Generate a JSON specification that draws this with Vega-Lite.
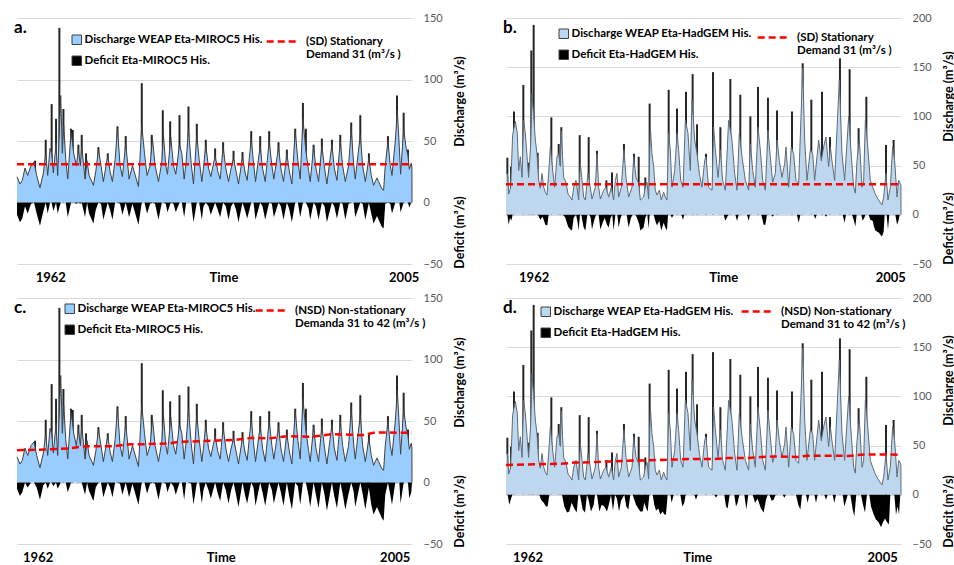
{
"$schema": "https://vega.github.io/schema/vega-lite/v6.json",
"padding": {"left": 12, "top": 12, "right": 0, "bottom": 0},
"datasets": {
"miroc_q": [{"t":0,"q":21},{"t":0.33,"q":15},{"t":0.59,"q":18},{"t":0.89,"q":28},{"t":1.19,"q":22},{"t":1.56,"q":30},{"t":1.9,"q":33},{"t":2.19,"q":22},{"t":2.56,"q":12},{"t":2.94,"q":24},{"t":3.2,"q":40},{"t":3.42,"q":22},{"t":3.68,"q":44},{"t":3.86,"q":40},{"t":4.05,"q":24},{"t":4.35,"q":48},{"t":4.53,"q":22},{"t":4.87,"q":87},{"t":5.05,"q":40},{"t":5.2,"q":63},{"t":5.43,"q":35},{"t":5.65,"q":19},{"t":6.02,"q":57},{"t":6.32,"q":40},{"t":6.61,"q":30},{"t":6.84,"q":43},{"t":7.06,"q":30},{"t":7.21,"q":46},{"t":7.58,"q":19},{"t":7.8,"q":34},{"t":8.03,"q":22},{"t":8.51,"q":14},{"t":8.77,"q":25},{"t":9.07,"q":43},{"t":9.36,"q":30},{"t":9.62,"q":17},{"t":10.11,"q":38},{"t":10.37,"q":25},{"t":10.63,"q":17},{"t":10.93,"q":35},{"t":11.19,"q":60},{"t":11.48,"q":30},{"t":11.74,"q":21},{"t":12.11,"q":48},{"t":12.49,"q":19},{"t":12.86,"q":30},{"t":13.53,"q":13},{"t":13.9,"q":63},{"t":14.2,"q":40},{"t":14.49,"q":22},{"t":14.83,"q":30},{"t":15.09,"q":52},{"t":15.38,"q":30},{"t":15.76,"q":17},{"t":16.13,"q":33},{"t":16.31,"q":55},{"t":16.57,"q":30},{"t":16.76,"q":23},{"t":17.13,"q":53},{"t":17.43,"q":30},{"t":17.69,"q":23},{"t":18.1,"q":47},{"t":18.36,"q":40},{"t":18.62,"q":19},{"t":18.84,"q":33},{"t":19.1,"q":60},{"t":19.4,"q":32},{"t":19.66,"q":15},{"t":20.03,"q":55},{"t":20.29,"q":35},{"t":20.59,"q":17},{"t":20.77,"q":28},{"t":21.03,"q":47},{"t":21.33,"q":28},{"t":21.59,"q":21},{"t":22.07,"q":38},{"t":22.37,"q":25},{"t":22.63,"q":19},{"t":22.96,"q":45},{"t":23.26,"q":28},{"t":23.56,"q":17},{"t":23.86,"q":28},{"t":24.12,"q":36},{"t":24.41,"q":25},{"t":24.67,"q":15},{"t":25.12,"q":37},{"t":25.42,"q":24},{"t":25.64,"q":18},{"t":26.09,"q":52},{"t":26.35,"q":32},{"t":26.57,"q":17},{"t":27.09,"q":46},{"t":27.35,"q":28},{"t":27.65,"q":17},{"t":28.09,"q":50},{"t":28.39,"q":30},{"t":28.61,"q":19},{"t":29.13,"q":45},{"t":29.39,"q":28},{"t":29.69,"q":17},{"t":30.06,"q":40},{"t":30.32,"q":26},{"t":30.62,"q":15},{"t":30.99,"q":58},{"t":31.29,"q":34},{"t":31.55,"q":19},{"t":31.85,"q":68},{"t":32.18,"q":42},{"t":32.48,"q":26},{"t":32.66,"q":17},{"t":33.04,"q":45},{"t":33.3,"q":28},{"t":33.59,"q":17},{"t":33.96,"q":46},{"t":34.26,"q":28},{"t":34.52,"q":15},{"t":35.08,"q":47},{"t":35.34,"q":28},{"t":35.64,"q":18},{"t":36.01,"q":50},{"t":36.27,"q":30},{"t":36.57,"q":17},{"t":36.94,"q":30},{"t":37.23,"q":60},{"t":37.49,"q":32},{"t":37.68,"q":19},{"t":38.24,"q":55},{"t":38.5,"q":30},{"t":38.8,"q":17},{"t":39.2,"q":36},{"t":39.46,"q":22},{"t":39.72,"q":14},{"t":40.1,"q":20},{"t":40.28,"q":17},{"t":40.65,"q":11},{"t":40.84,"q":10},{"t":41.02,"q":30},{"t":41.32,"q":50},{"t":41.58,"q":30},{"t":41.77,"q":22},{"t":42.14,"q":50},{"t":42.36,"q":75},{"t":42.59,"q":45},{"t":42.73,"q":23},{"t":43.07,"q":60},{"t":43.33,"q":45},{"t":43.55,"q":38},{"t":43.7,"q":27},{"t":43.92,"q":32},{"t":43.99,"q":28},{"t":44,"q":0}],
"miroc_s": [{"t":2.01,"s":34},{"t":3.2,"s":51},{"t":3.86,"s":80},{"t":4.35,"s":68},{"t":4.72,"s":142},{"t":5.17,"s":76},{"t":6.02,"s":60},{"t":6.21,"s":59},{"t":6.84,"s":47},{"t":7.21,"s":55},{"t":7.69,"s":40},{"t":9.07,"s":45},{"t":10.11,"s":40},{"t":11.19,"s":62},{"t":12.11,"s":54},{"t":13.9,"s":97},{"t":15.01,"s":55},{"t":16.24,"s":75},{"t":17.06,"s":66},{"t":18.1,"s":71},{"t":19.1,"s":78},{"t":20.03,"s":64},{"t":21.03,"s":51},{"t":22.07,"s":44},{"t":22.96,"s":49},{"t":24.12,"s":42},{"t":25.12,"s":41},{"t":26.09,"s":58},{"t":27.09,"s":54},{"t":28.09,"s":58},{"t":29.13,"s":49},{"t":30.06,"s":43},{"t":30.99,"s":60},{"t":31.85,"s":81},{"t":32.18,"s":60},{"t":33.04,"s":47},{"t":33.96,"s":52},{"t":35.08,"s":51},{"t":36.01,"s":55},{"t":37.23,"s":65},{"t":38.24,"s":71},{"t":39.2,"s":40},{"t":41.32,"s":54},{"t":42.33,"s":87},{"t":43.07,"s":73},{"t":43.55,"s":43}],
"hadgem_q": [{"t":0,"q":42},{"t":0.15,"q":42},{"t":0.3,"q":21},{"t":0.52,"q":28},{"t":0.74,"q":81},{"t":1.04,"q":95},{"t":1.26,"q":83},{"t":1.41,"q":45},{"t":1.6,"q":59},{"t":1.78,"q":38},{"t":1.97,"q":96},{"t":2.15,"q":83},{"t":2.38,"q":55},{"t":2.52,"q":38},{"t":2.75,"q":72},{"t":2.9,"q":123},{"t":3.27,"q":76},{"t":3.45,"q":62},{"t":3.64,"q":35},{"t":3.82,"q":27},{"t":4.01,"q":42},{"t":4.2,"q":28},{"t":4.38,"q":23},{"t":4.57,"q":20},{"t":4.75,"q":42},{"t":4.94,"q":69},{"t":5.2,"q":45},{"t":5.42,"q":28},{"t":5.68,"q":59},{"t":5.87,"q":62},{"t":6.05,"q":49},{"t":6.16,"q":85},{"t":6.42,"q":38},{"t":6.68,"q":33},{"t":6.91,"q":21},{"t":7.17,"q":18},{"t":7.35,"q":15},{"t":7.54,"q":28},{"t":7.8,"q":35},{"t":8.09,"q":15},{"t":8.28,"q":52},{"t":8.47,"q":35},{"t":8.65,"q":18},{"t":8.84,"q":15},{"t":9.13,"q":42},{"t":9.39,"q":28},{"t":9.58,"q":16},{"t":9.95,"q":28},{"t":10.14,"q":62},{"t":10.32,"q":28},{"t":10.51,"q":16},{"t":10.88,"q":25},{"t":11.14,"q":28},{"t":11.44,"q":18},{"t":11.73,"q":28},{"t":11.99,"q":15},{"t":12.18,"q":35},{"t":12.36,"q":42},{"t":12.55,"q":18},{"t":12.85,"q":28},{"t":13.14,"q":66},{"t":13.37,"q":38},{"t":13.66,"q":18},{"t":14.04,"q":28},{"t":14.22,"q":59},{"t":14.48,"q":38},{"t":14.78,"q":32},{"t":14.96,"q":15},{"t":15.33,"q":18},{"t":15.52,"q":28},{"t":15.71,"q":33},{"t":15.89,"q":16},{"t":16.08,"q":89},{"t":16.26,"q":62},{"t":16.45,"q":49},{"t":16.63,"q":25},{"t":16.82,"q":20},{"t":17.08,"q":25},{"t":17.3,"q":15},{"t":17.56,"q":23},{"t":17.75,"q":18},{"t":17.93,"q":15},{"t":18.12,"q":83},{"t":18.3,"q":66},{"t":18.49,"q":28},{"t":18.79,"q":45},{"t":19.05,"q":83},{"t":19.23,"q":66},{"t":19.46,"q":35},{"t":19.72,"q":28},{"t":19.98,"q":96},{"t":20.27,"q":83},{"t":20.53,"q":45},{"t":20.72,"q":117},{"t":21.02,"q":76},{"t":21.28,"q":62},{"t":21.54,"q":42},{"t":21.83,"q":28},{"t":22.13,"q":55},{"t":22.28,"q":59},{"t":22.57,"q":28},{"t":22.95,"q":25},{"t":23.13,"q":89},{"t":23.32,"q":66},{"t":23.62,"q":38},{"t":23.88,"q":66},{"t":24.13,"q":35},{"t":24.43,"q":25},{"t":24.8,"q":96},{"t":25.17,"q":76},{"t":25.47,"q":42},{"t":25.73,"q":25},{"t":25.99,"q":83},{"t":26.29,"q":59},{"t":26.66,"q":35},{"t":27.03,"q":25},{"t":27.22,"q":72},{"t":27.48,"q":45},{"t":27.77,"q":28},{"t":28.07,"q":89},{"t":28.33,"q":66},{"t":28.59,"q":35},{"t":28.89,"q":25},{"t":29.18,"q":86},{"t":29.44,"q":59},{"t":29.7,"q":33},{"t":30,"q":42},{"t":30.19,"q":76},{"t":30.45,"q":55},{"t":30.74,"q":38},{"t":31.04,"q":52},{"t":31.19,"q":69},{"t":31.49,"q":28},{"t":31.78,"q":69},{"t":32.04,"q":62},{"t":32.3,"q":35},{"t":32.6,"q":32},{"t":33.05,"q":149},{"t":33.27,"q":76},{"t":33.53,"q":35},{"t":33.9,"q":66},{"t":34.16,"q":62},{"t":34.38,"q":35},{"t":34.64,"q":59},{"t":34.83,"q":76},{"t":35.12,"q":55},{"t":35.38,"q":69},{"t":35.64,"q":79},{"t":35.94,"q":49},{"t":36.13,"q":69},{"t":36.31,"q":55},{"t":36.61,"q":35},{"t":37.13,"q":137},{"t":37.43,"q":62},{"t":37.72,"q":35},{"t":38.17,"q":100},{"t":38.47,"q":59},{"t":38.73,"q":28},{"t":38.91,"q":22},{"t":39.1,"q":55},{"t":39.36,"q":76},{"t":39.66,"q":28},{"t":39.84,"q":35},{"t":40.03,"q":96},{"t":40.32,"q":66},{"t":40.58,"q":35},{"t":40.84,"q":28},{"t":41.14,"q":21},{"t":41.51,"q":15},{"t":41.88,"q":10},{"t":42.07,"q":18},{"t":42.33,"q":42},{"t":42.55,"q":15},{"t":42.81,"q":28},{"t":43.07,"q":69},{"t":43.29,"q":55},{"t":43.56,"q":18},{"t":43.75,"q":35},{"t":43.92,"q":32},{"t":43.99,"q":30},{"t":44,"q":0}],
"hadgem_s": [{"t":0.15,"s":58},{"t":0.56,"s":49},{"t":0.89,"s":105},{"t":1.93,"s":132},{"t":2.52,"s":53},{"t":2.82,"s":167},{"t":3.08,"s":193},{"t":3.53,"s":63},{"t":5.05,"s":99},{"t":5.87,"s":72},{"t":6.16,"s":89},{"t":8.21,"s":81},{"t":9.21,"s":79},{"t":10.14,"s":65},{"t":11.18,"s":35},{"t":11.81,"s":43},{"t":13.14,"s":72},{"t":14.26,"s":62},{"t":14.78,"s":59},{"t":15.52,"s":38},{"t":16.0,"s":113},{"t":18.12,"s":127},{"t":19.05,"s":108},{"t":20.05,"s":125},{"t":20.79,"s":143},{"t":21.28,"s":92},{"t":22.28,"s":62},{"t":23.06,"s":145},{"t":23.88,"s":89},{"t":24.99,"s":138},{"t":26.1,"s":122},{"t":27.22,"s":100},{"t":28.07,"s":130},{"t":29.18,"s":119},{"t":30.19,"s":106},{"t":31.86,"s":105},{"t":33.05,"s":154},{"t":34.01,"s":117},{"t":35.2,"s":125},{"t":36.09,"s":79},{"t":37.2,"s":159},{"t":38.28,"s":148},{"t":39.28,"s":88},{"t":40.14,"s":120},{"t":42.33,"s":71},{"t":43.18,"s":76}],
"def_a": [{"t":0,"d":-10},{"t":0.33,"d":-16},{"t":0.59,"d":-13},{"t":0.89,"d":-3},{"t":1.19,"d":-9},{"t":1.56,"d":-1},{"t":1.9,"d":0},{"t":2.19,"d":-9},{"t":2.56,"d":-19},{"t":2.94,"d":-7},{"t":3.2,"d":0},{"t":3.42,"d":-9},{"t":3.68,"d":0},{"t":3.86,"d":0},{"t":4.05,"d":-7},{"t":4.35,"d":0},{"t":4.53,"d":-9},{"t":4.87,"d":0},{"t":5.43,"d":0},{"t":5.65,"d":-12},{"t":6.02,"d":0},{"t":6.32,"d":0},{"t":6.61,"d":-1},{"t":6.84,"d":0},{"t":7.06,"d":-1},{"t":7.21,"d":0},{"t":7.58,"d":-12},{"t":7.8,"d":0},{"t":8.03,"d":-9},{"t":8.51,"d":-17},{"t":8.77,"d":-6},{"t":9.07,"d":0},{"t":9.36,"d":-1},{"t":9.62,"d":-14},{"t":10.11,"d":0},{"t":10.37,"d":-6},{"t":10.63,"d":-14},{"t":10.93,"d":0},{"t":11.19,"d":0},{"t":11.48,"d":-1},{"t":11.74,"d":-10},{"t":12.11,"d":0},{"t":12.49,"d":-12},{"t":12.86,"d":-1},{"t":13.53,"d":-18},{"t":13.9,"d":0},{"t":14.2,"d":0},{"t":14.49,"d":-9},{"t":14.83,"d":-1},{"t":15.09,"d":0},{"t":15.38,"d":-1},{"t":15.76,"d":-14},{"t":16.13,"d":0},{"t":16.31,"d":0},{"t":16.57,"d":-1},{"t":16.76,"d":-8},{"t":17.13,"d":0},{"t":17.43,"d":-1},{"t":17.69,"d":-8},{"t":18.1,"d":0},{"t":18.36,"d":0},{"t":18.62,"d":-12},{"t":18.84,"d":0},{"t":19.1,"d":0},{"t":19.4,"d":0},{"t":19.66,"d":-16},{"t":20.03,"d":0},{"t":20.29,"d":0},{"t":20.59,"d":-14},{"t":20.77,"d":-3},{"t":21.03,"d":0},{"t":21.33,"d":-3},{"t":21.59,"d":-10},{"t":22.07,"d":0},{"t":22.37,"d":-6},{"t":22.63,"d":-12},{"t":22.96,"d":0},{"t":23.26,"d":-3},{"t":23.56,"d":-14},{"t":23.86,"d":-3},{"t":24.12,"d":0},{"t":24.41,"d":-6},{"t":24.67,"d":-16},{"t":25.12,"d":0},{"t":25.42,"d":-7},{"t":25.64,"d":-13},{"t":26.09,"d":0},{"t":26.35,"d":0},{"t":26.57,"d":-14},{"t":27.09,"d":0},{"t":27.35,"d":-3},{"t":27.65,"d":-14},{"t":28.09,"d":0},{"t":28.39,"d":-1},{"t":28.61,"d":-12},{"t":29.13,"d":0},{"t":29.39,"d":-3},{"t":29.69,"d":-14},{"t":30.06,"d":0},{"t":30.32,"d":-5},{"t":30.62,"d":-16},{"t":30.99,"d":0},{"t":31.29,"d":0},{"t":31.55,"d":-12},{"t":31.85,"d":0},{"t":32.18,"d":0},{"t":32.48,"d":-5},{"t":32.66,"d":-14},{"t":33.04,"d":0},{"t":33.3,"d":-3},{"t":33.59,"d":-14},{"t":33.96,"d":0},{"t":34.26,"d":-3},{"t":34.52,"d":-16},{"t":35.08,"d":0},{"t":35.34,"d":-3},{"t":35.64,"d":-13},{"t":36.01,"d":0},{"t":36.27,"d":-1},{"t":36.57,"d":-14},{"t":36.94,"d":-1},{"t":37.23,"d":0},{"t":37.49,"d":0},{"t":37.68,"d":-12},{"t":38.24,"d":0},{"t":38.5,"d":-1},{"t":38.8,"d":-14},{"t":39.2,"d":0},{"t":39.46,"d":-9},{"t":39.72,"d":-17},{"t":40.1,"d":-11},{"t":40.28,"d":-14},{"t":40.65,"d":-20},{"t":40.84,"d":-21},{"t":41.02,"d":-1},{"t":41.32,"d":0},{"t":41.58,"d":-1},{"t":41.77,"d":-9},{"t":42.14,"d":0},{"t":42.59,"d":0},{"t":42.73,"d":-8},{"t":43.07,"d":0},{"t":43.55,"d":0},{"t":43.7,"d":-4},{"t":43.92,"d":0},{"t":44,"d":0}],
"def_c": [{"t":0,"d":-5},{"t":0.33,"d":-11},{"t":0.59,"d":-8},{"t":0.89,"d":0},{"t":1.19,"d":-4},{"t":1.56,"d":0},{"t":1.9,"d":0},{"t":2.19,"d":-4},{"t":2.56,"d":-14},{"t":2.94,"d":-2},{"t":3.2,"d":0},{"t":3.42,"d":-5},{"t":3.68,"d":0},{"t":3.86,"d":0},{"t":4.05,"d":-3},{"t":4.35,"d":0},{"t":4.53,"d":-5},{"t":4.87,"d":0},{"t":5.43,"d":0},{"t":5.65,"d":-8},{"t":6.02,"d":0},{"t":7.21,"d":0},{"t":7.58,"d":-10},{"t":7.8,"d":0},{"t":8.03,"d":-7},{"t":8.51,"d":-15},{"t":8.77,"d":-4},{"t":9.07,"d":0},{"t":9.36,"d":0},{"t":9.62,"d":-12},{"t":10.11,"d":0},{"t":10.37,"d":-4},{"t":10.63,"d":-12},{"t":10.93,"d":0},{"t":11.19,"d":0},{"t":11.48,"d":-1},{"t":11.74,"d":-10},{"t":12.11,"d":0},{"t":12.49,"d":-12},{"t":12.86,"d":-1},{"t":13.53,"d":-18},{"t":13.9,"d":0},{"t":14.2,"d":0},{"t":14.49,"d":-9},{"t":14.83,"d":-1},{"t":15.09,"d":0},{"t":15.38,"d":-1},{"t":15.76,"d":-14},{"t":16.13,"d":0},{"t":16.31,"d":0},{"t":16.57,"d":-1},{"t":16.76,"d":-8},{"t":17.13,"d":0},{"t":17.43,"d":-3},{"t":17.69,"d":-10},{"t":18.1,"d":0},{"t":18.36,"d":0},{"t":18.62,"d":-14},{"t":18.84,"d":0},{"t":19.1,"d":0},{"t":19.4,"d":-1},{"t":19.66,"d":-18},{"t":20.03,"d":0},{"t":20.29,"d":0},{"t":20.59,"d":-17},{"t":20.77,"d":-6},{"t":21.03,"d":0},{"t":21.33,"d":-6},{"t":21.59,"d":-13},{"t":22.07,"d":0},{"t":22.37,"d":-9},{"t":22.63,"d":-15},{"t":22.96,"d":0},{"t":23.26,"d":-6},{"t":23.56,"d":-17},{"t":23.86,"d":-6},{"t":24.12,"d":0},{"t":24.41,"d":-10},{"t":24.67,"d":-20},{"t":25.12,"d":0},{"t":25.42,"d":-11},{"t":25.64,"d":-17},{"t":26.09,"d":0},{"t":26.35,"d":-4},{"t":26.57,"d":-19},{"t":27.09,"d":0},{"t":27.35,"d":-8},{"t":27.65,"d":-19},{"t":28.09,"d":0},{"t":28.39,"d":-6},{"t":28.61,"d":-17},{"t":29.13,"d":0},{"t":29.39,"d":-8},{"t":29.69,"d":-19},{"t":30.06,"d":0},{"t":30.32,"d":-11},{"t":30.62,"d":-22},{"t":30.99,"d":0},{"t":31.29,"d":-3},{"t":31.55,"d":-18},{"t":31.85,"d":0},{"t":32.18,"d":0},{"t":32.48,"d":-11},{"t":32.66,"d":-20},{"t":33.04,"d":0},{"t":33.3,"d":-10},{"t":33.59,"d":-21},{"t":33.96,"d":0},{"t":34.26,"d":-10},{"t":34.52,"d":-23},{"t":35.08,"d":0},{"t":35.34,"d":-11},{"t":35.64,"d":-21},{"t":36.01,"d":0},{"t":36.27,"d":-9},{"t":36.57,"d":-22},{"t":36.94,"d":-9},{"t":37.23,"d":0},{"t":37.49,"d":-7},{"t":37.68,"d":-20},{"t":38.24,"d":0},{"t":38.5,"d":-9},{"t":38.8,"d":-22},{"t":39.2,"d":-4},{"t":39.46,"d":-18},{"t":39.72,"d":-26},{"t":40.1,"d":-20},{"t":40.28,"d":-23},{"t":40.65,"d":-29},{"t":40.84,"d":-31},{"t":41.02,"d":-10},{"t":41.32,"d":0},{"t":41.58,"d":-10},{"t":41.77,"d":-18},{"t":42.14,"d":0},{"t":42.59,"d":0},{"t":42.73,"d":-17},{"t":43.07,"d":0},{"t":43.55,"d":0},{"t":43.7,"d":-13},{"t":43.92,"d":-8},{"t":44,"d":0}],
"def_b": [{"t":0,"d":0},{"t":0.15,"d":0},{"t":0.3,"d":-10},{"t":0.45,"d":-3},{"t":0.59,"d":-6},{"t":0.74,"d":0},{"t":3.56,"d":0},{"t":3.82,"d":-5},{"t":4.08,"d":-2},{"t":4.38,"d":-10},{"t":4.6,"d":-11},{"t":4.75,"d":0},{"t":6.35,"d":0},{"t":6.61,"d":-3},{"t":6.91,"d":-12},{"t":7.17,"d":-15},{"t":7.35,"d":-16},{"t":7.54,"d":-3},{"t":7.8,"d":0},{"t":7.95,"d":-6},{"t":8.09,"d":-16},{"t":8.24,"d":0},{"t":8.39,"d":0},{"t":8.65,"d":-13},{"t":8.84,"d":-16},{"t":9.06,"d":0},{"t":9.28,"d":0},{"t":9.43,"d":-3},{"t":9.58,"d":-15},{"t":9.84,"d":-5},{"t":10.03,"d":0},{"t":10.32,"d":0},{"t":10.51,"d":-15},{"t":10.77,"d":-8},{"t":10.99,"d":-3},{"t":11.25,"d":-10},{"t":11.44,"d":-13},{"t":11.66,"d":-3},{"t":11.84,"d":0},{"t":11.99,"d":-16},{"t":12.18,"d":0},{"t":12.4,"d":0},{"t":12.55,"d":-13},{"t":12.77,"d":-3},{"t":12.92,"d":0},{"t":13.44,"d":0},{"t":13.66,"d":-13},{"t":13.92,"d":-3},{"t":14.11,"d":0},{"t":14.41,"d":0},{"t":14.59,"d":-3},{"t":14.85,"d":-10},{"t":14.96,"d":-16},{"t":15.33,"d":-13},{"t":15.52,"d":-3},{"t":15.67,"d":0},{"t":15.74,"d":0},{"t":15.89,"d":-14},{"t":16.0,"d":0},{"t":16.45,"d":0},{"t":16.63,"d":-6},{"t":16.82,"d":-11},{"t":17.08,"d":-6},{"t":17.3,"d":-16},{"t":17.56,"d":-8},{"t":17.75,"d":-13},{"t":17.93,"d":-16},{"t":18.05,"d":0},{"t":18.3,"d":0},{"t":18.49,"d":-3},{"t":18.68,"d":0},{"t":19.53,"d":0},{"t":19.72,"d":-5},{"t":19.86,"d":0},{"t":24.25,"d":0},{"t":24.43,"d":-6},{"t":24.65,"d":-2},{"t":24.8,"d":0},{"t":25.55,"d":0},{"t":25.73,"d":-6},{"t":25.92,"d":0},{"t":26.85,"d":0},{"t":27.03,"d":-6},{"t":27.18,"d":0},{"t":28.44,"d":0},{"t":28.7,"d":-10},{"t":28.89,"d":-10},{"t":29.07,"d":0},{"t":29.55,"d":0},{"t":29.7,"d":-2},{"t":29.85,"d":0},{"t":32.41,"d":0},{"t":32.6,"d":-8},{"t":32.79,"d":0},{"t":34.27,"d":0},{"t":34.46,"d":-4},{"t":34.61,"d":0},{"t":35.5,"d":0},{"t":35.64,"d":-2},{"t":35.79,"d":0},{"t":37.5,"d":0},{"t":37.72,"d":-8},{"t":37.87,"d":0},{"t":38.54,"d":0},{"t":38.73,"d":-5},{"t":38.91,"d":-12},{"t":39.06,"d":0},{"t":39.58,"d":0},{"t":39.73,"d":-6},{"t":39.92,"d":-3},{"t":40.03,"d":0},{"t":40.4,"d":0},{"t":40.58,"d":-5},{"t":40.84,"d":-6},{"t":40.99,"d":-12},{"t":41.14,"d":-16},{"t":41.51,"d":-18},{"t":41.88,"d":-22},{"t":42.07,"d":-17},{"t":42.18,"d":0},{"t":42.4,"d":0},{"t":42.55,"d":-15},{"t":42.7,"d":0},{"t":43.37,"d":0},{"t":43.56,"d":-10},{"t":43.75,"d":-5},{"t":43.85,"d":0},{"t":44,"d":0}],
"def_d": [{"t":0,"d":0},{"t":0.19,"d":0},{"t":0.37,"d":-10},{"t":0.56,"d":-4},{"t":0.71,"d":0},{"t":3.71,"d":0},{"t":3.9,"d":-5},{"t":4.2,"d":-8},{"t":4.46,"d":-12},{"t":4.64,"d":-12},{"t":4.83,"d":0},{"t":6.24,"d":0},{"t":6.5,"d":-12},{"t":6.79,"d":-18},{"t":7.05,"d":-17},{"t":7.31,"d":-8},{"t":7.61,"d":-14},{"t":7.87,"d":-18},{"t":8.06,"d":0},{"t":8.24,"d":0},{"t":8.54,"d":-15},{"t":8.8,"d":-18},{"t":9.02,"d":0},{"t":9.17,"d":-4},{"t":9.47,"d":-17},{"t":9.77,"d":-10},{"t":9.91,"d":0},{"t":10.14,"d":0},{"t":10.4,"d":-17},{"t":10.66,"d":-10},{"t":10.95,"d":-12},{"t":11.25,"d":-17},{"t":11.51,"d":-8},{"t":11.7,"d":0},{"t":11.92,"d":-16},{"t":12.14,"d":0},{"t":12.36,"d":-4},{"t":12.59,"d":-17},{"t":12.81,"d":-6},{"t":13.18,"d":0},{"t":13.4,"d":-12},{"t":13.63,"d":-15},{"t":13.85,"d":0},{"t":14.11,"d":0},{"t":14.48,"d":-10},{"t":14.74,"d":-14},{"t":14.96,"d":-17},{"t":15.22,"d":-17},{"t":15.41,"d":-8},{"t":15.63,"d":-14},{"t":15.78,"d":-17},{"t":15.97,"d":0},{"t":16.34,"d":0},{"t":16.52,"d":-10},{"t":16.71,"d":-16},{"t":16.97,"d":-14},{"t":17.19,"d":-20},{"t":17.45,"d":-17},{"t":17.64,"d":-20},{"t":17.82,"d":-20},{"t":18.01,"d":0},{"t":18.31,"d":0},{"t":18.45,"d":-8},{"t":18.68,"d":0},{"t":19.42,"d":0},{"t":19.64,"d":-12},{"t":19.86,"d":-8},{"t":20.01,"d":0},{"t":20.98,"d":0},{"t":21.16,"d":-5},{"t":21.35,"d":0},{"t":23.21,"d":0},{"t":23.39,"d":-3},{"t":23.58,"d":0},{"t":24.32,"d":0},{"t":24.51,"d":-12},{"t":24.69,"d":-14},{"t":24.91,"d":0},{"t":25.43,"d":0},{"t":25.62,"d":-12},{"t":25.8,"d":-8},{"t":25.99,"d":0},{"t":26.55,"d":0},{"t":26.77,"d":-15},{"t":26.99,"d":0},{"t":27.48,"d":0},{"t":27.74,"d":-8},{"t":28.03,"d":-4},{"t":28.4,"d":-14},{"t":28.7,"d":-18},{"t":28.96,"d":-5},{"t":29.15,"d":0},{"t":29.33,"d":0},{"t":29.59,"d":-6},{"t":29.81,"d":-5},{"t":30.04,"d":0},{"t":30.82,"d":0},{"t":31.0,"d":-3},{"t":31.19,"d":0},{"t":32.3,"d":0},{"t":32.56,"d":-10},{"t":32.79,"d":-15},{"t":32.97,"d":0},{"t":33.42,"d":0},{"t":33.6,"d":-8},{"t":33.79,"d":0},{"t":34.35,"d":0},{"t":34.53,"d":-8},{"t":34.72,"d":0},{"t":35.46,"d":0},{"t":35.64,"d":-5},{"t":35.83,"d":0},{"t":36.39,"d":0},{"t":36.57,"d":-8},{"t":36.76,"d":0},{"t":37.5,"d":0},{"t":37.69,"d":-12},{"t":37.91,"d":-5},{"t":38.06,"d":0},{"t":38.36,"d":0},{"t":38.62,"d":-15},{"t":38.8,"d":-22},{"t":39.02,"d":0},{"t":39.54,"d":0},{"t":39.77,"d":-10},{"t":39.99,"d":-18},{"t":40.21,"d":0},{"t":40.47,"d":0},{"t":40.66,"d":-12},{"t":40.96,"d":-20},{"t":41.21,"d":-25},{"t":41.51,"d":-28},{"t":41.77,"d":-33},{"t":41.99,"d":-28},{"t":42.22,"d":-24},{"t":42.44,"d":-28},{"t":42.66,"d":-30},{"t":42.81,"d":0},{"t":43.26,"d":0},{"t":43.44,"d":-20},{"t":43.63,"d":-12},{"t":43.78,"d":-20},{"t":43.92,"d":0},{"t":44,"d":0}],
"dem_const": [{"t":0,"D":31},{"t":44,"D":31}],
"dem_c": [{"t":0,"D":26.2},{"t":3.12,"D":26.8},{"t":5.72,"D":27.6},{"t":7.58,"D":29.5},{"t":10.93,"D":29.5},{"t":12.04,"D":30.9},{"t":13.9,"D":31.1},{"t":16.87,"D":31.7},{"t":17.99,"D":33},{"t":20.59,"D":33.6},{"t":24.3,"D":34.7},{"t":26.16,"D":36.3},{"t":28.02,"D":35.8},{"t":30.25,"D":37.7},{"t":32.85,"D":37.2},{"t":35.08,"D":39.3},{"t":38.42,"D":38.5},{"t":39.91,"D":40.7},{"t":44,"D":40.4}],
"dem_d": [{"t":0,"D":30.3},{"t":3.16,"D":31},{"t":4.64,"D":31.3},{"t":6.13,"D":31.6},{"t":7.61,"D":32.7},{"t":9.47,"D":33},{"t":10.58,"D":33.7},{"t":12.07,"D":34},{"t":13.55,"D":34.7},{"t":15.78,"D":35},{"t":18.01,"D":35.7},{"t":20.98,"D":36.4},{"t":23.21,"D":36.4},{"t":24.69,"D":37.4},{"t":26.92,"D":37.4},{"t":28.4,"D":38.4},{"t":29.89,"D":39},{"t":32.49,"D":38.4},{"t":33.6,"D":39.8},{"t":36.2,"D":39.8},{"t":38.06,"D":39.5},{"t":39.91,"D":41},{"t":44,"D":40.8}]
},
"concat": [
{
"title": {"text": "a."},
"width": 395, "height": 246,
"encoding": {"x": {"field": "t", "type": "quantitative", "scale": {"domain": [0, 44], "nice": false, "zero": false}, "axis": {"values": [3.71, 23, 43.07], "labelExpr": "datum.value < 10 ? '1962' : datum.value < 33 ? 'Time' : '2005'", "title": null}}},
"resolve": {"axis": {"y": "independent"}},
"layer": [
{"data": {"name": "miroc_s"}, "mark": {"type": "rule", "color": "#262626", "strokeWidth": 2},
 "encoding": {"y": {"field": "s", "type": "quantitative", "scale": {"domain": [-50, 150], "nice": false, "zero": false}, "axis": {"orient": "right", "values": [-50, 0, 50, 100, 150], "title": "Discharge (m³/s)", "titleY": 83}}, "y2": {"datum": 0}}},
{"data": {"name": "miroc_q"}, "mark": {"type": "area"},
 "encoding": {"y": {"field": "q", "type": "quantitative", "scale": {"domain": [-50, 150], "nice": false, "zero": false}, "axis": null},
  "fill": {"datum": "Discharge WEAP Eta-MIROC5 His.", "type": "nominal", "scale": {"domain": ["Discharge WEAP Eta-MIROC5 His.", "Deficit Eta-MIROC5 His."], "range": ["#99CCFF", "#000000"]},
   "legend": {"orient": "none", "legendX": 54, "legendY": 16, "title": null, "symbolType": "square", "symbolSize": 90, "symbolStrokeColor": "#404040", "symbolStrokeWidth": 1, "labelOffset": 2, "rowPadding": 7}}}},
{"data": {"name": "miroc_q"}, "mark": {"type": "line", "color": "#404040", "strokeWidth": 1},
 "encoding": {"y": {"field": "q", "type": "quantitative", "scale": {"domain": [-50, 150], "nice": false, "zero": false}, "axis": null}}},
{"data": {"name": "def_a"}, "mark": {"type": "area"},
 "encoding": {"y": {"field": "d", "type": "quantitative", "scale": {"domain": [-50, 150], "nice": false, "zero": false}, "axis": {"orient": "right", "labels": false, "grid": false, "title": "Deficit  (m³/s)", "titleY": 214}},
  "fill": {"datum": "Deficit Eta-MIROC5 His.", "type": "nominal", "scale": {"domain": ["Discharge WEAP Eta-MIROC5 His.", "Deficit Eta-MIROC5 His."], "range": ["#99CCFF", "#000000"]}}}},
{"data": {"name": "dem_const"}, "mark": {"type": "line", "color": "#FF0000", "strokeWidth": 2.5},
 "encoding": {"y": {"field": "D", "type": "quantitative", "scale": {"domain": [-50, 150], "nice": false, "zero": false}, "axis": null},
  "strokeDash": {"datum": "SD", "type": "nominal", "scale": {"domain": ["SD"], "range": [[7, 4]]},
   "legend": {"orient": "none", "legendX": 248, "legendY": 6, "title": null, "symbolType": "stroke", "symbolSize": 1000, "symbolStrokeColor": "#FF0000", "symbolStrokeWidth": 2.5, "labelOffset": 6,
    "labelExpr": "['(SD) Stationary', 'Demand 31 (m³/s )']"}}}}
]
},
{
"title": {"text": "b."},
"width": 395, "height": 246,
"encoding": {"x": {"field": "t", "type": "quantitative", "scale": {"domain": [0, 44], "nice": false, "zero": false}, "axis": {"values": [3.08, 24.2, 42.8], "labelExpr": "datum.value < 10 ? '1962' : datum.value < 33 ? 'Time' : '2005'", "title": null}}},
"resolve": {"axis": {"y": "independent"}},
"layer": [
{"data": {"name": "hadgem_s"}, "mark": {"type": "rule", "color": "#262626", "strokeWidth": 2},
 "encoding": {"y": {"field": "s", "type": "quantitative", "scale": {"domain": [-50, 200], "nice": false, "zero": false}, "axis": {"orient": "right", "values": [-50, 0, 50, 100, 150, 200], "title": "Discharge (m³/s)", "titleY": 78}}, "y2": {"datum": 0}}},
{"data": {"name": "hadgem_q"}, "mark": {"type": "area"},
 "encoding": {"y": {"field": "q", "type": "quantitative", "scale": {"domain": [-50, 200], "nice": false, "zero": false}, "axis": null},
  "fill": {"datum": "Discharge WEAP Eta-HadGEM His.", "type": "nominal", "scale": {"domain": ["Discharge WEAP Eta-HadGEM His.", "Deficit Eta-HadGEM His."], "range": ["#BDD7EE", "#000000"]},
   "legend": {"orient": "none", "legendX": 52, "legendY": 10, "title": null, "symbolType": "square", "symbolSize": 90, "symbolStrokeColor": "#404040", "symbolStrokeWidth": 1, "labelOffset": 2, "rowPadding": 7}}}},
{"data": {"name": "hadgem_q"}, "mark": {"type": "line", "color": "#5f6b78", "strokeWidth": 1},
 "encoding": {"y": {"field": "q", "type": "quantitative", "scale": {"domain": [-50, 200], "nice": false, "zero": false}, "axis": null}}},
{"data": {"name": "def_b"}, "mark": {"type": "area"},
 "encoding": {"y": {"field": "d", "type": "quantitative", "scale": {"domain": [-50, 200], "nice": false, "zero": false}, "axis": {"orient": "right", "labels": false, "grid": false, "title": "Deficit  (m³/s)", "titleY": 210}},
  "fill": {"datum": "Deficit Eta-HadGEM His.", "type": "nominal", "scale": {"domain": ["Discharge WEAP Eta-HadGEM His.", "Deficit Eta-HadGEM His."], "range": ["#BDD7EE", "#000000"]}}}},
{"data": {"name": "dem_const"}, "mark": {"type": "line", "color": "#FF0000", "strokeWidth": 2.5},
 "encoding": {"y": {"field": "D", "type": "quantitative", "scale": {"domain": [-50, 200], "nice": false, "zero": false}, "axis": null},
  "strokeDash": {"datum": "SD", "type": "nominal", "scale": {"domain": ["SD"], "range": [[7, 4]]},
   "legend": {"orient": "none", "legendX": 250, "legendY": 2, "title": null, "symbolType": "stroke", "symbolSize": 1000, "symbolStrokeColor": "#FF0000", "symbolStrokeWidth": 2.5, "labelOffset": 6,
    "labelExpr": "['(SD) Stationary', 'Demand 31 (m³/s )']"}}}}
]
},
{
"title": {"text": "c."},
"width": 395, "height": 246,
"encoding": {"x": {"field": "t", "type": "quantitative", "scale": {"domain": [0, 44], "nice": false, "zero": false}, "axis": {"values": [2.3, 22.7, 42.07], "labelExpr": "datum.value < 10 ? '1962' : datum.value < 33 ? 'Time' : '2005'", "title": null}}},
"resolve": {"axis": {"y": "independent"}},
"layer": [
{"data": {"name": "miroc_s"}, "mark": {"type": "rule", "color": "#262626", "strokeWidth": 2},
 "encoding": {"y": {"field": "s", "type": "quantitative", "scale": {"domain": [-50, 150], "nice": false, "zero": false}, "axis": {"orient": "right", "values": [-50, 0, 50, 100, 150], "title": "Discharge (m³/s)", "titleY": 84}}, "y2": {"datum": 0}}},
{"data": {"name": "miroc_q"}, "mark": {"type": "area"},
 "encoding": {"y": {"field": "q", "type": "quantitative", "scale": {"domain": [-50, 150], "nice": false, "zero": false}, "axis": null},
  "fill": {"datum": "Discharge WEAP Eta-MIROC5 His.", "type": "nominal", "scale": {"domain": ["Discharge WEAP Eta-MIROC5 His.", "Deficit Eta-MIROC5 His."], "range": ["#99CCFF", "#000000"]},
   "legend": {"orient": "none", "legendX": 47, "legendY": 5, "title": null, "symbolType": "square", "symbolSize": 90, "symbolStrokeColor": "#404040", "symbolStrokeWidth": 1, "labelOffset": 2, "rowPadding": 7}}}},
{"data": {"name": "miroc_q"}, "mark": {"type": "line", "color": "#404040", "strokeWidth": 1},
 "encoding": {"y": {"field": "q", "type": "quantitative", "scale": {"domain": [-50, 150], "nice": false, "zero": false}, "axis": null}}},
{"data": {"name": "def_c"}, "mark": {"type": "area"},
 "encoding": {"y": {"field": "d", "type": "quantitative", "scale": {"domain": [-50, 150], "nice": false, "zero": false}, "axis": {"orient": "right", "labels": false, "grid": false, "title": "Deficit  (m³/s)", "titleY": 213}},
  "fill": {"datum": "Deficit Eta-MIROC5 His.", "type": "nominal", "scale": {"domain": ["Discharge WEAP Eta-MIROC5 His.", "Deficit Eta-MIROC5 His."], "range": ["#99CCFF", "#000000"]}}}},
{"data": {"name": "dem_c"}, "mark": {"type": "line", "color": "#FF0000", "strokeWidth": 2.5},
 "encoding": {"y": {"field": "D", "type": "quantitative", "scale": {"domain": [-50, 150], "nice": false, "zero": false}, "axis": null},
  "strokeDash": {"datum": "NSD", "type": "nominal", "scale": {"domain": ["NSD"], "range": [[7, 4]]},
   "legend": {"orient": "none", "legendX": 237, "legendY": -5, "title": null, "symbolType": "stroke", "symbolSize": 1000, "symbolStrokeColor": "#FF0000", "symbolStrokeWidth": 2.5, "labelOffset": 6,
    "labelExpr": "['(NSD) Non-stationary', 'Demanda 31 to 42 (m³/s )']"}}}}
]
},
{
"title": {"text": "d."},
"width": 395, "height": 246,
"encoding": {"x": {"field": "t", "type": "quantitative", "scale": {"domain": [0, 44], "nice": false, "zero": false}, "axis": {"values": [2.4, 21.3, 41.9], "labelExpr": "datum.value < 10 ? '1962' : datum.value < 33 ? 'Time' : '2005'", "title": null}}},
"resolve": {"axis": {"y": "independent"}},
"layer": [
{"data": {"name": "hadgem_s"}, "mark": {"type": "rule", "color": "#262626", "strokeWidth": 2},
 "encoding": {"y": {"field": "s", "type": "quantitative", "scale": {"domain": [-50, 200], "nice": false, "zero": false}, "axis": {"orient": "right", "values": [-50, 0, 50, 100, 150, 200], "title": "Discharge (m³/s)", "titleY": 82}}, "y2": {"datum": 0}}},
{"data": {"name": "hadgem_q"}, "mark": {"type": "area"},
 "encoding": {"y": {"field": "q", "type": "quantitative", "scale": {"domain": [-50, 200], "nice": false, "zero": false}, "axis": null},
  "fill": {"datum": "Discharge WEAP Eta-HadGEM His.", "type": "nominal", "scale": {"domain": ["Discharge WEAP Eta-HadGEM His.", "Deficit Eta-HadGEM His."], "range": ["#BDD7EE", "#000000"]},
   "legend": {"orient": "none", "legendX": 34, "legendY": 8, "title": null, "symbolType": "square", "symbolSize": 90, "symbolStrokeColor": "#404040", "symbolStrokeWidth": 1, "labelOffset": 2, "rowPadding": 7}}}},
{"data": {"name": "hadgem_q"}, "mark": {"type": "line", "color": "#5f6b78", "strokeWidth": 1},
 "encoding": {"y": {"field": "q", "type": "quantitative", "scale": {"domain": [-50, 200], "nice": false, "zero": false}, "axis": null}}},
{"data": {"name": "def_d"}, "mark": {"type": "area"},
 "encoding": {"y": {"field": "d", "type": "quantitative", "scale": {"domain": [-50, 200], "nice": false, "zero": false}, "axis": {"orient": "right", "labels": false, "grid": false, "title": "Deficit  (m³/s)", "titleY": 213}},
  "fill": {"datum": "Deficit Eta-HadGEM His.", "type": "nominal", "scale": {"domain": ["Discharge WEAP Eta-HadGEM His.", "Deficit Eta-HadGEM His."], "range": ["#BDD7EE", "#000000"]}}}},
{"data": {"name": "dem_d"}, "mark": {"type": "line", "color": "#FF0000", "strokeWidth": 2.5},
 "encoding": {"y": {"field": "D", "type": "quantitative", "scale": {"domain": [-50, 200], "nice": false, "zero": false}, "axis": null},
  "strokeDash": {"datum": "NSD", "type": "nominal", "scale": {"domain": ["NSD"], "range": [[7, 4]]},
   "legend": {"orient": "none", "legendX": 234, "legendY": -4, "title": null, "symbolType": "stroke", "symbolSize": 1000, "symbolStrokeColor": "#FF0000", "symbolStrokeWidth": 2.5, "labelOffset": 6,
    "labelExpr": "['(NSD) Non-stationary', 'Demand 31 to 42 (m³/s )']"}}}}
]
}
],
"columns": 2,
"spacing": {"row": 34, "column": 94},
"bounds": "flush",
"resolve": {"scale": {"x": "independent", "y": "independent", "fill": "independent", "strokeDash": "independent"}, "axis": {"x": "independent", "y": "independent"}, "legend": {"fill": "independent", "strokeDash": "independent"}},
"config": {
 "view": {"stroke": null},
 "font": "Lato, sans-serif",
 "title": {"fontSize": 17, "fontWeight": "bold", "color": "#000000", "anchor": "start", "frame": "group", "offset": -25, "dx": -3, "baseline": "middle"},
 "axisX": {"grid": false, "ticks": false, "domain": false, "labelFontWeight": "bold", "labelFontSize": 13, "labelColor": "#000000", "labelPadding": 7, "labelFlush": false, "labelOverlap": false},
 "axisY": {"grid": true, "gridColor": "#d9d9d9", "gridWidth": 1, "ticks": false, "domain": false, "labelColor": "#595959", "labelFontSize": 11, "labelPadding": 11, "titleFontSize": 12.5, "titleFontWeight": "bold", "titleColor": "#000000", "titleAngle": 270, "titleBaseline": "middle", "titleAlign": "center", "titleX": 47},
 "legend": {"padding": 0, "labelFontSize": 11.5, "labelFontWeight": "bold", "labelColor": "#000000", "labelLimit": 400}
}
}
